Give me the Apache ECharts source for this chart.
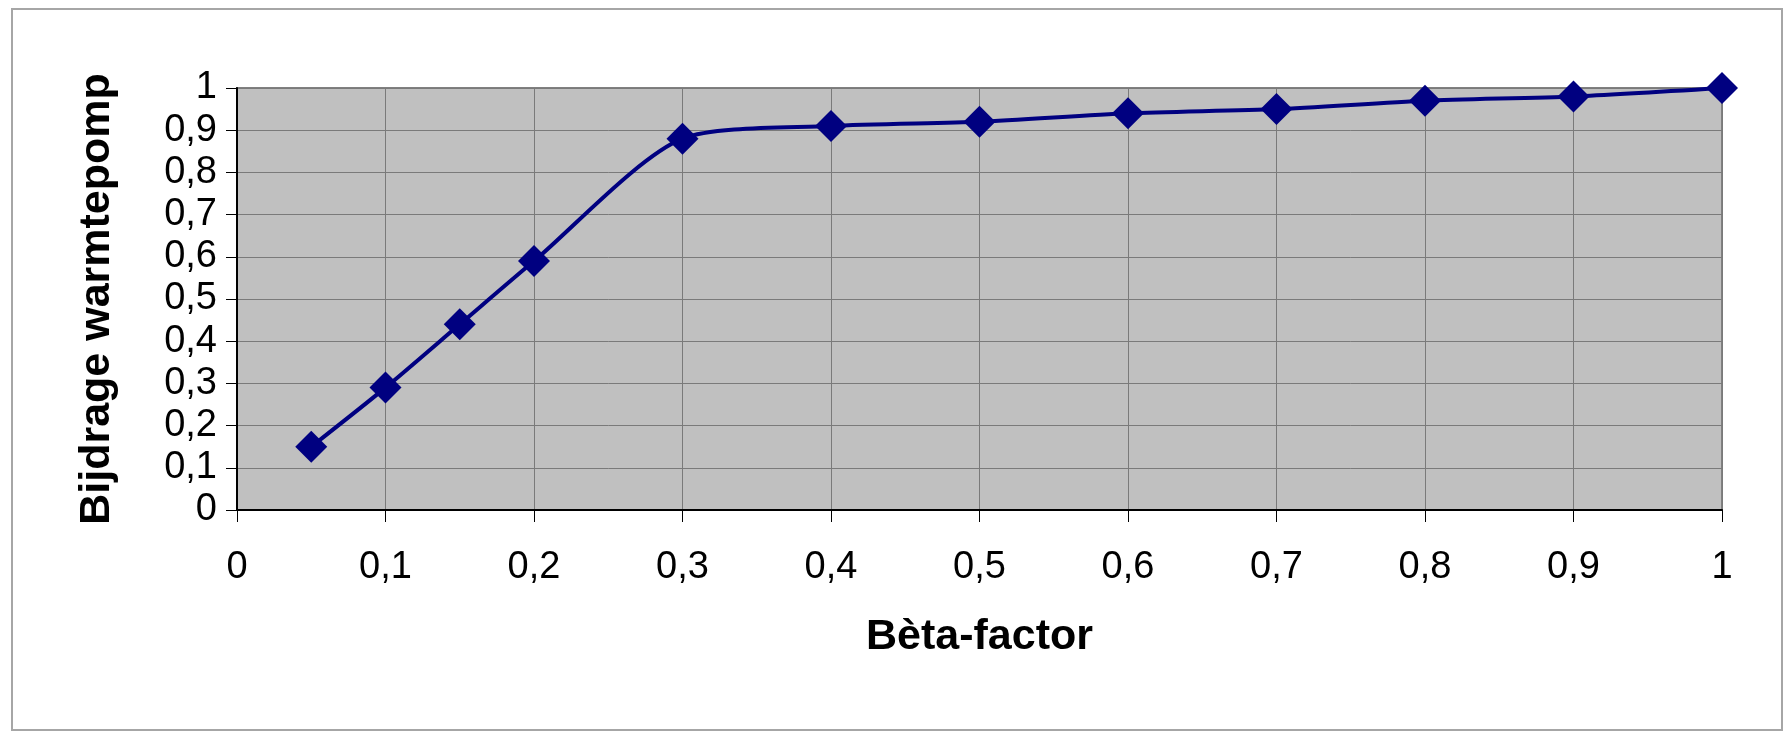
<!DOCTYPE html>
<html>
<head>
<meta charset="utf-8">
<script src="https://cdn.jsdelivr.net/npm/echarts@6/dist/echarts.min.js"></script>
<style>
html,body{margin:0;padding:0;background:#fff;}
#chart{width:1791px;height:733px;}
</style>
</head>
<body>
<div id="chart"></div>
<script>
const betaFactor = [0.05, 0.1, 0.15, 0.2, 0.3, 0.4, 0.5, 0.6, 0.7, 0.8, 0.9, 1.0];
const bijdrage = [0.15, 0.29, 0.44, 0.59, 0.88, 0.91, 0.92, 0.94, 0.95, 0.97, 0.98, 1.0];
const xTitle = 'Bèta-factor';
const yTitle = 'Bijdrage warmtepomp';

const fmt = v => String(+(+v).toFixed(1)).replace('.', ',');
const font = "'Liberation Sans', Arial, sans-serif";

const chart = echarts.init(document.getElementById('chart'));
chart.setOption({
  animation: false,
  backgroundColor: '#ffffff',
  graphic: [{
    type: 'rect',
    shape: { x: 12, y: 9, width: 1770, height: 721 },
    style: { fill: 'none', stroke: '#a6a6a6', lineWidth: 2 },
    z: -10
  }],
  grid: {
    left: 237, right: 69, top: 88, bottom: 223,
    show: true, backgroundColor: '#c0c0c0', borderColor: '#808080', borderWidth: 2
  },
  xAxis: {
    type: 'value', min: 0, max: 1, interval: 0.1,
    name: xTitle, nameLocation: 'middle', nameGap: 106,
    nameTextStyle: { fontFamily: font, fontWeight: 'bold', fontSize: 43, color: '#000' },
    axisLine: { show: true, lineStyle: { color: '#000', width: 2 } },
    axisTick: { show: true, inside: false, length: 12, lineStyle: { color: '#000', width: 1 } },
    axisLabel: { formatter: fmt, margin: 39, fontFamily: font, fontSize: 38, color: '#000' },
    splitLine: { show: true, lineStyle: { color: '#7a7a7a', width: 1 } }
  },
  yAxis: {
    type: 'value', min: 0, max: 1, interval: 0.1,
    name: yTitle, nameLocation: 'middle', nameGap: 118,
    nameTextStyle: { fontFamily: font, fontWeight: 'bold', fontSize: 43, color: '#000' },
    axisLine: { show: true, lineStyle: { color: '#000', width: 2 } },
    axisTick: { show: true, inside: false, length: 11, lineStyle: { color: '#000', width: 1 } },
    axisLabel: { formatter: fmt, margin: 20, fontFamily: font, fontSize: 38, color: '#000' },
    splitLine: { show: true, lineStyle: { color: '#7a7a7a', width: 1 } }
  },
  series: [{
    type: 'line',
    data: betaFactor.map((x, i) => [x, bijdrage[i]]),
    smooth: 0.25,
    symbol: 'diamond',
    symbolSize: 32,
    lineStyle: { color: '#000080', width: 4 },
    itemStyle: { color: '#000080' },
    clip: false,
    z: 5
  }]
});
</script>
</body>
</html>
